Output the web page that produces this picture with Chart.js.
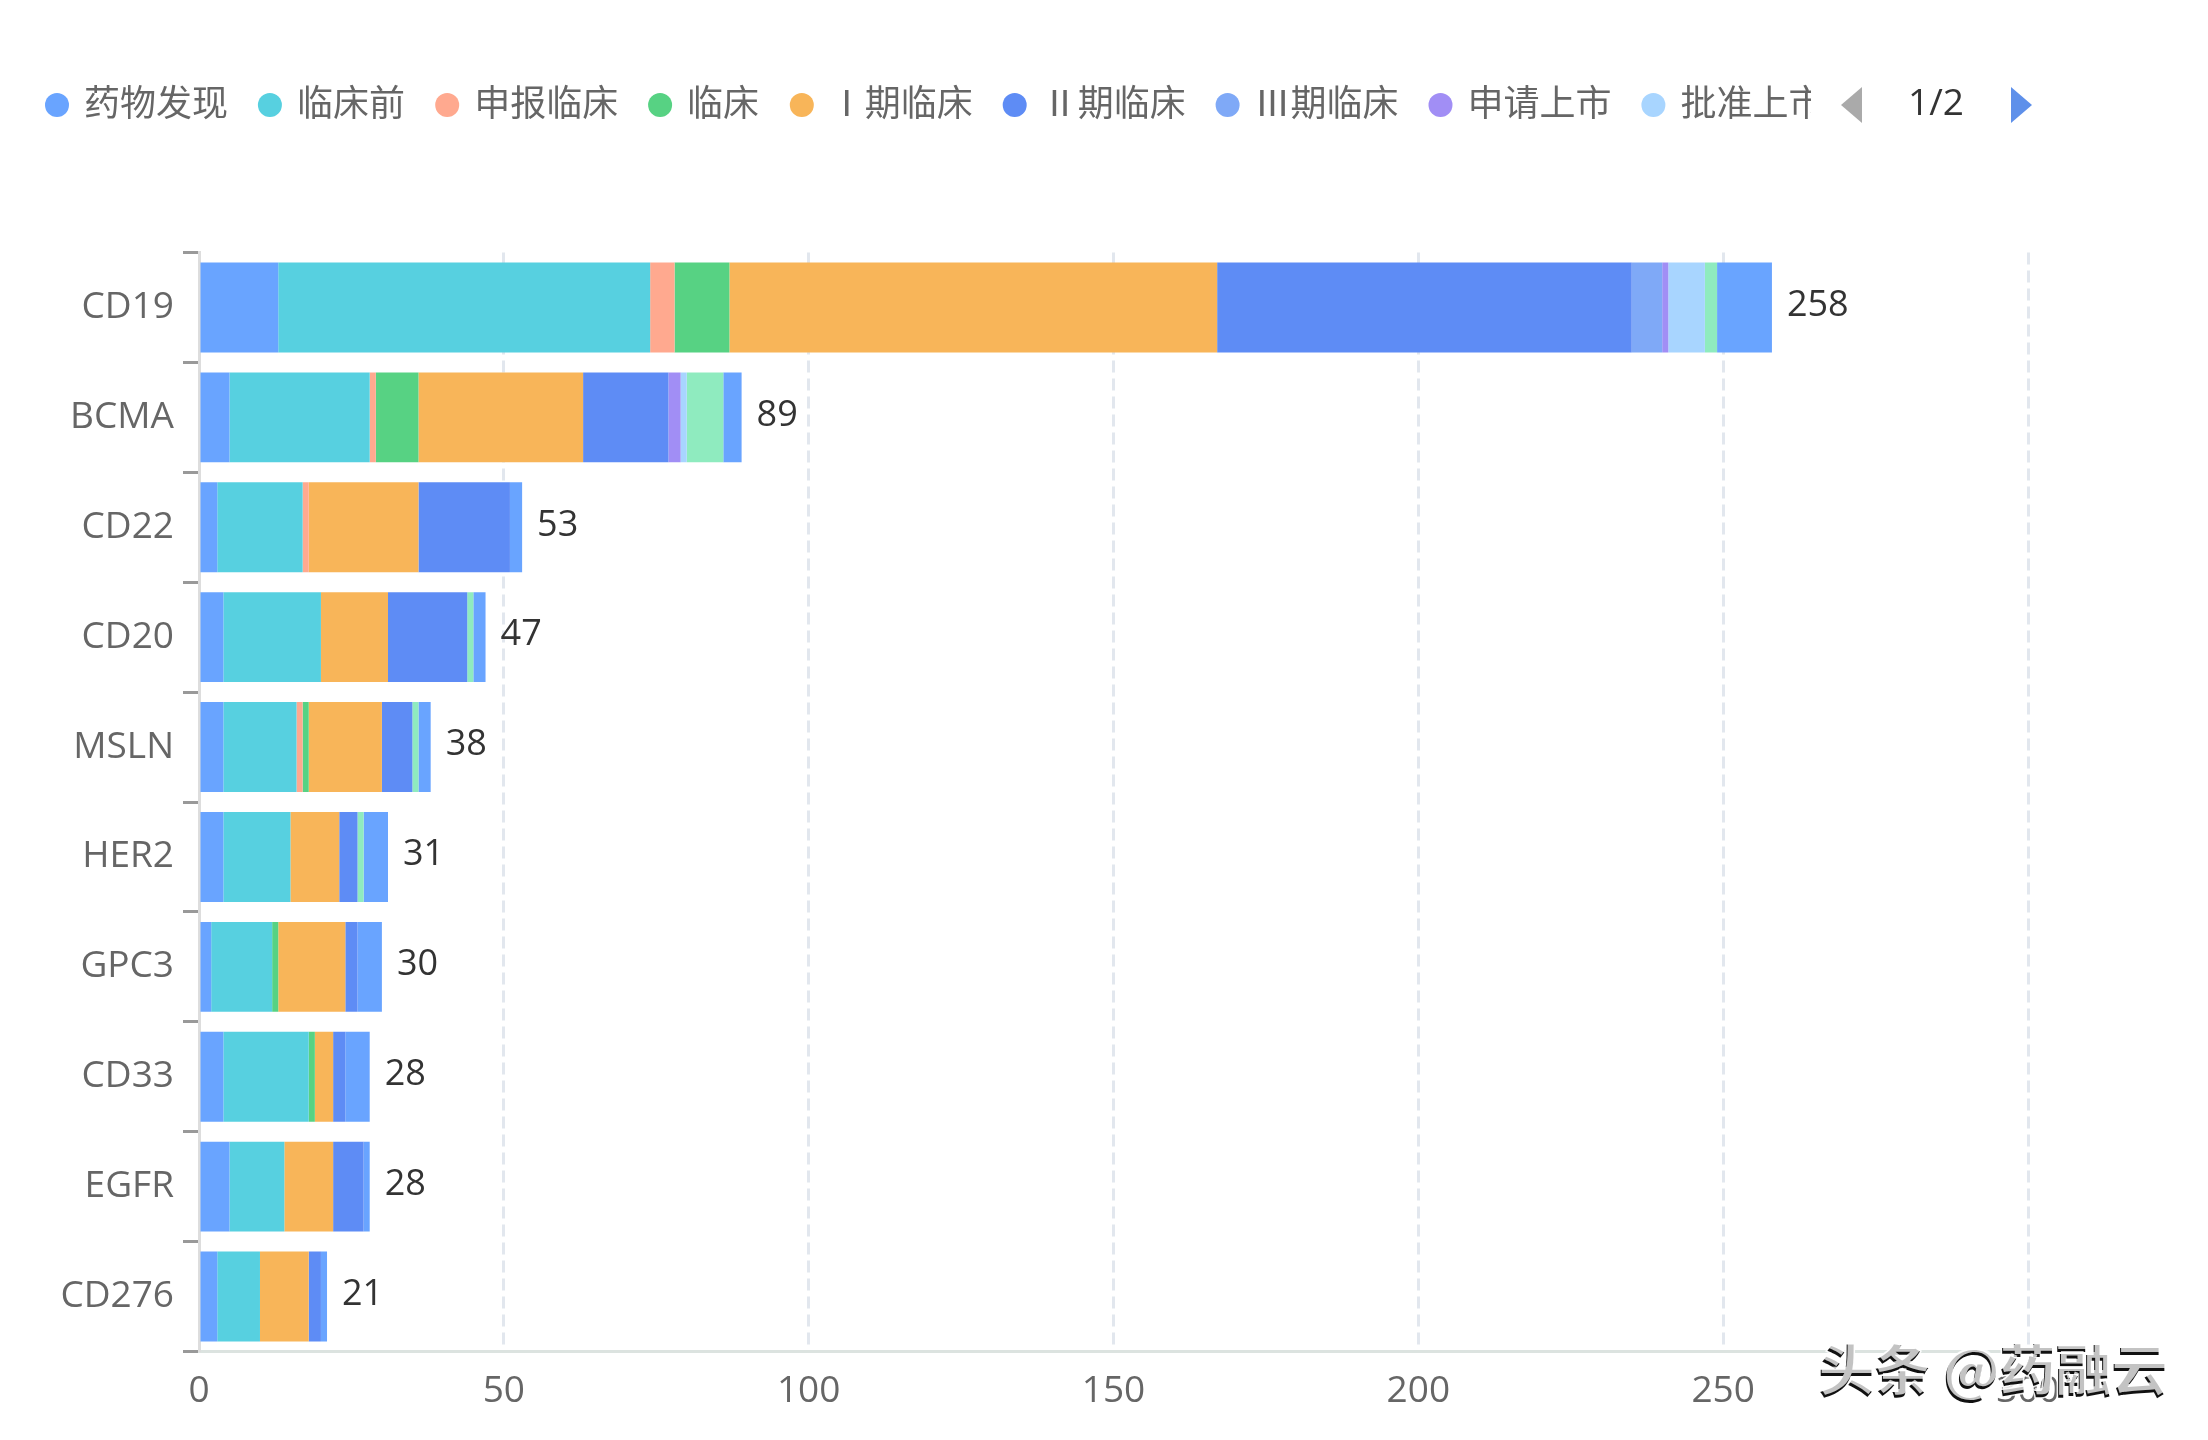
<!DOCTYPE html>
<html>
<head>
<meta charset="utf-8">
<title>靶点研发阶段</title>
<script src="https://cdn.jsdelivr.net/npm/chart.js@4/dist/chart.umd.js"></script>
<style>
  html, body { margin: 0; background: #fff; }
  canvas { display: block; }
</style>
</head>
<body>
<canvas id="chart" width="2208" height="1440"></canvas>
<script>
const categories = ['CD19', 'BCMA', 'CD22', 'CD20', 'MSLN', 'HER2', 'GPC3', 'CD33', 'EGFR', 'CD276']
const totals = [258, 89, 53, 47, 38, 31, 30, 28, 28, 21]
const xTicks = [0, 50, 100, 150, 200, 250, 300]

const discovery = [13, 5, 3, 4, 4, 4, 2, 4, 5, 3]
const preclinical = [61, 23, 14, 16, 12, 11, 10, 14, 9, 7]
const filing = [4, 1, 1, 0, 1, 0, 0, 0, 0, 0]
const clinical = [9, 7, 0, 0, 1, 0, 1, 1, 0, 0]
const phase1 = [80, 27, 18, 11, 12, 8, 11, 3, 8, 8]
const phase2 = [68, 14, 15, 13, 5, 3, 2, 2, 5, 2]
const phase3 = [5, 0, 0, 0, 0, 0, 0, 0, 0, 0]
const applied = [1, 2, 0, 0, 0, 0, 0, 0, 0, 0]
const approved = [6, 1, 0, 0, 0, 0, 0, 0, 0, 0]
// the last two sit on legend page 2, their names are not visible
const page2a = [2, 6, 0, 1, 1, 1, 0, 0, 0, 0]
const page2b = [9, 3, 2, 2, 2, 4, 4, 4, 1, 1]

const seriesNames = ['药物发现', '临床前', '申报临床', '临床', 'Ⅰ期临床', 'Ⅱ期临床', 'Ⅲ期临床', '申请上市', '批准上市', '第2页系列1', '第2页系列2']
const seriesValues = [discovery, preclinical, filing, clinical, phase1, phase2, phase3, applied, approved, page2a, page2b]
const seriesColors = ['#69A4FF', '#57D0E0', '#FFA98F', '#57D283', '#F8B559', '#5E8CF5', '#7FA9F7', '#A18EF5', '#A8D5FF', '#8FEBBF', '#69A4FF']
const legendCount = 9

const FONT = "'Open Sans', 'Noto Sans CJK SC', sans-serif"

// legend is paged in the original, so it is drawn by hand and clipped before the arrows
const pagedLegend = {
  id: 'pagedLegend',
  afterDraw(chart) {
    const ctx = chart.ctx
    const y = 105
    ctx.save()
    ctx.beginPath()
    ctx.rect(0, 60, 1811, 90)
    ctx.clip()
    ctx.font = "36px 'Noto Sans CJK SC'"
    ctx.textBaseline = 'middle'
    ctx.textAlign = 'left'
    let x = 57
    chart.data.datasets.slice(0, legendCount).forEach(ds => {
      ctx.fillStyle = ds.backgroundColor
      ctx.beginPath()
      ctx.arc(x, y, 12, 0, Math.PI * 2)
      ctx.fill()
      ctx.fillStyle = '#666'
      ctx.fillText(ds.label, x + 27, y - 3)
      // roman numerals are narrow in this font, keep the full width step of the original
      x += 70.5 + ds.label.length * 35.6
    })
    ctx.restore()

    // pager
    ctx.save()
    ctx.fillStyle = '#AAAAAA'
    ctx.beginPath()
    ctx.moveTo(1841, y)
    ctx.lineTo(1862, 87)
    ctx.lineTo(1862, 123)
    ctx.fill()
    ctx.fillStyle = '#5E90EA'
    ctx.beginPath()
    ctx.moveTo(2032, y)
    ctx.lineTo(2011, 87)
    ctx.lineTo(2011, 123)
    ctx.fill()
    ctx.fillStyle = '#333'
    ctx.font = '37px ' + FONT
    ctx.textAlign = 'center'
    ctx.textBaseline = 'middle'
    ctx.fillText('1/2', 1936, y - 1)
    ctx.restore()
  }
}

const totalLabels = {
  id: 'totalLabels',
  afterDatasetsDraw(chart) {
    const ctx = chart.ctx
    const { x, y } = chart.scales
    ctx.save()
    ctx.font = '36px ' + FONT
    ctx.fillStyle = '#333'
    ctx.textAlign = 'left'
    ctx.textBaseline = 'middle'
    totals.forEach((t, i) => {
      ctx.fillText(t, x.getPixelForValue(t) + 15, y.getPixelForValue(i) - 2)
    })
    ctx.restore()
  }
}

const watermark = {
  id: 'watermark',
  afterDraw(chart) {
    const ctx = chart.ctx
    const text = '头条 @药融云'
    ctx.save()
    ctx.font = "bold 56px 'Noto Sans CJK SC'"
    ctx.textAlign = 'left'
    ctx.textBaseline = 'middle'
    ctx.lineWidth = 3
    ctx.strokeStyle = 'rgba(255,255,255,0.85)'
    ctx.strokeText(text, 1818, 1371)
    ctx.fillStyle = '#111'
    ctx.fillText(text, 1818, 1371)
    ctx.fillStyle = 'rgba(255,255,255,0.75)'
    ctx.fillText(text, 1819, 1368)
    ctx.restore()
  }
}

new Chart(document.getElementById('chart'), {
  type: 'bar',
  data: {
    labels: categories,
    datasets: seriesNames.map((name, i) => ({
      label: name,
      data: seriesValues[i],
      backgroundColor: seriesColors[i],
      borderWidth: 0,
      barPercentage: 0.818,
      categoryPercentage: 1
    }))
  },
  options: {
    indexAxis: 'y',
    responsive: false,
    animation: false,
    layout: { padding: { top: 252.5, right: 180, left: 0, bottom: 0 } },
    plugins: {
      legend: { display: false },
      title: { display: false },
      tooltip: { enabled: false }
    },
    scales: {
      x: {
        stacked: true,
        min: 0,
        max: 300,
        afterBuildTicks: s => { s.ticks = xTicks.map(v => ({ value: v })) },
        afterFit: s => { s.height = 88.5 },
        border: { display: true, color: '#DCE3E0', width: 3, dash: [12, 6] },
        grid: {
          color: c => c.tick && c.tick.value === 0 ? 'rgba(0,0,0,0)' : '#E2E7EE',
          lineWidth: 3,
          drawTicks: false
        },
        ticks: {
          padding: 18,
          color: '#666',
          font: { family: FONT, size: 37 },
          maxRotation: 0,
          autoSkip: false
        }
      },
      y: {
        stacked: true,
        afterFit: s => { s.width = 199 },
        border: { display: true, color: '#DDDDDD', width: 3 },
        grid: {
          offset: true,
          drawOnChartArea: false,
          tickLength: 16,
          tickColor: '#999',
          tickWidth: 3
        },
        ticks: {
          padding: 9,
          color: '#666',
          font: { family: FONT, size: 37 },
          autoSkip: false
        }
      }
    }
  },
  plugins: [totalLabels, pagedLegend, watermark]
})
</script>
</body>
</html>
